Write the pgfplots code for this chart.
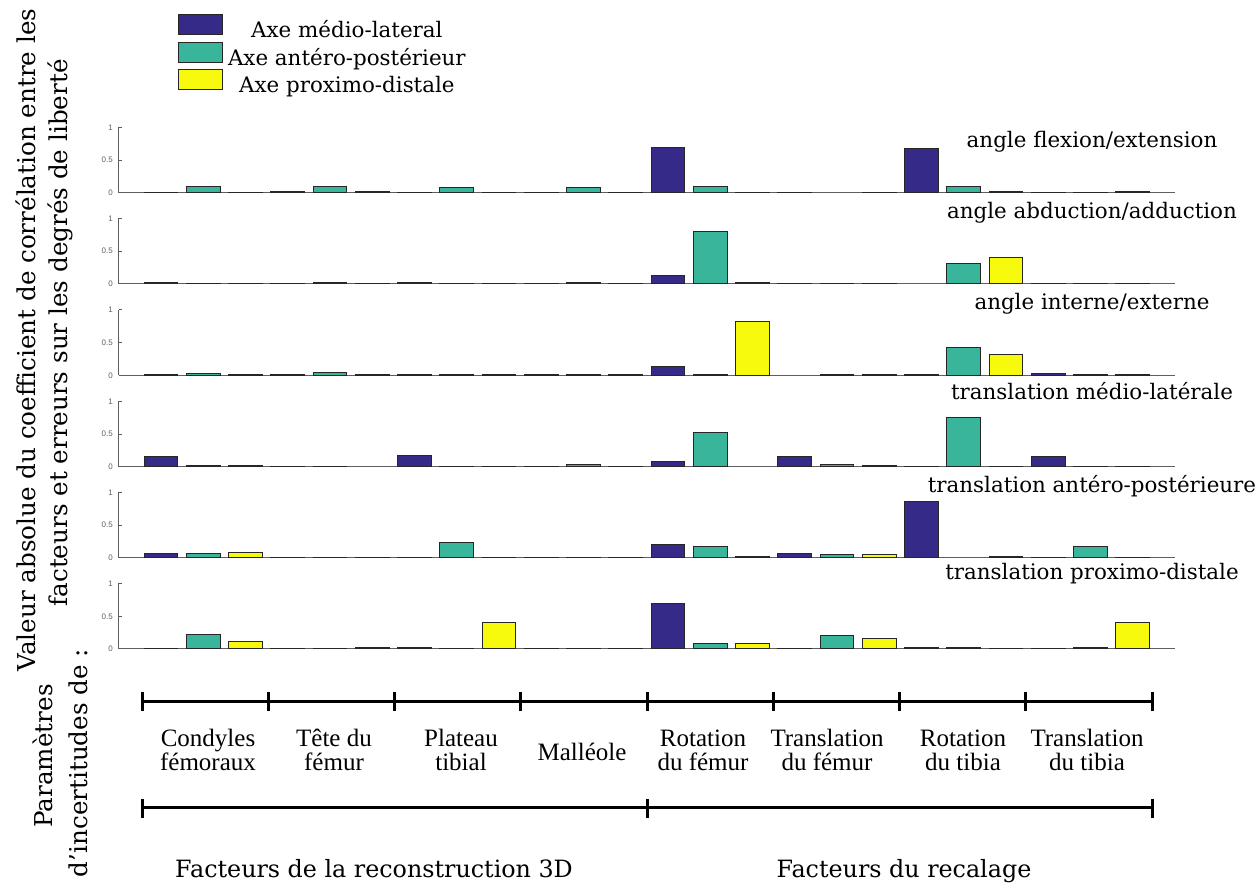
\documentclass[border=0pt]{standalone}
\usepackage{pgfplots}
\pgfplotsset{compat=1.18}
\usepackage{pgfplotstable}
\usepackage{fontspec}
\setmainfont{DejaVu Serif}
\setsansfont{Liberation Sans}
\newfontfamily\labelfont{Liberation Serif}

\definecolor{cML}{RGB}{53,42,135}
\definecolor{cAP}{RGB}{56,181,154}
\definecolor{cPD}{RGB}{248,250,13}
\definecolor{axisgray}{RGB}{95,95,95}

% |coefficient| per factor group (g = 1..8); columns: medio-lateral, antero-posterior, proximo-distal
\pgfplotstableread{
g  b     t     y
1  0.01  0.10  0.01
2  0.03  0.10  0.03
3  0.01  0.09  0.01
4  0.01  0.09  0.01
5  0.69  0.10  0.01
6  0.01  nan   0.01
7  0.68  0.10  0.03
8  0.01  0.01  0.03
}\flexext
\pgfplotstableread{
g  b     t     y
1  0.03  0.01  0.01
2  0.01  0.03  0.01
3  0.03  0.01  0.01
4  0.01  0.03  0.01
5  0.13  0.80  0.03
6  0.01  0.01  0.01
7  nan   0.31  0.41
8  0.01  0.01  0.01
}\abdadd
\pgfplotstableread{
g  b     t     y
1  0.01  0.03  0.01
2  0.01  0.05  0.01
3  0.01  0.01  0.01
4  0.01  0.01  0.01
5  0.14  0.01  0.82
6  nan   0.01  0.01
7  0.01  0.43  0.32
8  0.03  0.02  0.02
}\intext
\pgfplotstableread{
g  b     t     y
1  0.16  0.03  0.03
2  0.01  0.01  nan
3  0.17  0.01  0.01
4  0.01  0.04  0.01
5  0.08  0.52  nan
6  0.16  0.04  0.03
7  0.01  0.76  0.01
8  0.16  0.01  0.01
}\trml
\pgfplotstableread{
g  b     t     y
1  0.07  0.07  0.09
2  0.01  0.01  0.01
3  0.01  0.23  0.01
4  0.01  0.01  0.01
5  0.21  0.18  0.03
6  0.07  0.05  0.06
7  0.87  nan   0.03
8  0.01  0.18  0.01
}\trap
\pgfplotstableread{
g  b     t     y
1  0.01  0.22  0.12
2  0.01  0.01  0.03
3  0.03  0.01  0.40
4  0.01  0.01  0.01
5  0.69  0.08  0.08
6  0.01  0.20  0.16
7  0.03  0.03  0.01
8  0.01  0.03  0.40
}\trpd

\pgfplotsset{
  panel/.style={
    width=528.125pt, height=32.75pt, scale only axis,
    anchor=south west, clip=false,
    xmin=0, xmax=25, ymin=0, ymax=1,
    axis x line*=bottom, axis y line*=left,
    axis line style={axisgray, line width=0.5pt},
    xtick=\empty, ytick={0,0.5,1}, yticklabels={0,0.5,1},
    tick align=inside, major tick length=1.7pt,
    tick style={axisgray, line width=0.5pt},
    yticklabel style={font=\sffamily\fontsize{4}{4}\selectfont, text=axisgray,
      inner sep=0pt, anchor=east, xshift=-2.8pt},
  },
  % legend swatch: drawn as overlay so only the text sets the row height
  barbase/.style={ybar, bar width=0.8, bar shift=0pt, draw=black!85, line width=0.5pt,
    legend image code/.code={%
      \draw[##1, overlay] (0pt,-2pt) rectangle (22pt,8pt);
      \path[draw=none, fill=none] (0pt,0pt) -- (22pt,0pt);}},
  ML/.style={barbase, fill=cML},
  AP/.style={barbase, fill=cAP},
  PD/.style={barbase, fill=cPD},
}

\newcommand{\threeseries}[1]{%
  \addplot[ML] table[x expr=3*\thisrow{g}-2, y=b] {#1};
  \addplot[AP] table[x expr=3*\thisrow{g}-1, y=t] {#1};
  \addplot[PD] table[x expr=3*\thisrow{g},   y=y] {#1};
}

\begin{document}
\begin{tikzpicture}
\useasboundingbox (0,0) rectangle (629.5pt,-443pt);

% panel 1 carries the legend
\begin{axis}[panel, at={(59.375pt,-96.5pt)},
  legend cell align=center,
  legend style={at={(0.0561,2.646)}, anchor=north west, draw=none, fill=none,
    inner sep=0pt, outer sep=0pt, row sep=2.75pt, column sep=3pt,
    font=\fontsize{10.7}{12}\selectfont,
    nodes={inner sep=0pt, text height=9pt, text depth=2pt}}]
  \threeseries{\flexext}
  \legend{Axe médio-lateral, Axe antéro-postérieur, Axe proximo-distale}
\end{axis}
\begin{axis}[panel, at={(59.375pt,-142pt)}]
  \threeseries{\abdadd}
\end{axis}
\begin{axis}[panel, at={(59.375pt,-187.75pt)}]
  \threeseries{\intext}
\end{axis}
\begin{axis}[panel, at={(59.375pt,-233.5pt)}]
  \threeseries{\trml}
\end{axis}
\begin{axis}[panel, at={(59.375pt,-279pt)}]
  \threeseries{\trap}
\end{axis}
\begin{axis}[panel, at={(59.375pt,-324.5pt)}]
  \threeseries{\trpd}
\end{axis}

% panel titles
\begin{scope}[every node/.style={anchor=base, font=\fontsize{10.7}{12}\selectfont, inner sep=0pt}]
  \node at (546pt,-74pt)    {angle flexion/extension};
  \node at (546pt,-109.5pt) {angle abduction/adduction};
  \node at (546pt,-155pt)   {angle interne/externe};
  \node at (546pt,-200pt)   {translation médio-latérale};
  \node at (546pt,-246.5pt) {translation antéro-postérieure};
  \node at (546pt,-290pt)   {translation proximo-distale};
\end{scope}

% vertical captions
\begin{scope}[every node/.style={rotate=90, anchor=base, font=\fontsize{12.3}{14}\selectfont, inner sep=0pt}]
  \node at (17.75pt,-170pt) {Valeur absolue du coefficient de corrélation entre les};
  \node at (34pt,-166.5pt)  {facteurs et erreurs sur les degrés de liberté};
  \node at (26.5pt,-378pt)  {Paramètres};
  \node at (43.5pt,-381.5pt) {d’incertitudes de :};
\end{scope}

% factor brackets
\draw[line width=1.5pt] (71pt,-351pt) -- (576pt,-351pt);
\foreach \x in {71,134.125,197.25,260.375,323.5,386.625,449.75,512.875,576}
  \draw[line width=1.5pt] (\x pt,-346pt) -- (\x pt,-355.5pt);
\draw[line width=1.5pt] (71pt,-404pt) -- (576pt,-404pt);
\foreach \x in {71,323.5,576}
  \draw[line width=1.5pt] (\x pt,-399.5pt) -- (\x pt,-409pt);

% factor names
\begin{scope}[every node/.style={anchor=base, font=\labelfont\fontsize{12.5}{14}\selectfont, inner sep=0pt}]
  \node at (104pt,-373.5pt) {Condyles};   \node at (104pt,-385.5pt) {fémoraux};
  \node at (167pt,-373.5pt) {Tête du};    \node at (167pt,-385.5pt) {fémur};
  \node at (230.5pt,-373.5pt) {Plateau};  \node at (230.5pt,-385.5pt) {tibial};
  \node at (291pt,-380.5pt) {Malléole};
  \node at (351.5pt,-373.5pt) {Rotation}; \node at (351.5pt,-385.5pt) {du fémur};
  \node at (413.5pt,-373.5pt) {Translation}; \node at (413.5pt,-385.5pt) {du fémur};
  \node at (481.5pt,-373.5pt) {Rotation}; \node at (481.5pt,-385.5pt) {du tibia};
  \node at (543.5pt,-373.5pt) {Translation}; \node at (543.5pt,-385.5pt) {du tibia};
\end{scope}

\begin{scope}[every node/.style={anchor=base, font=\fontsize{11.9}{14}\selectfont, inner sep=0pt}]
  \node at (187pt,-439pt) {Facteurs de la reconstruction 3D};
  \node at (452pt,-439pt) {Facteurs du recalage};
\end{scope}
\end{tikzpicture}
\end{document}
